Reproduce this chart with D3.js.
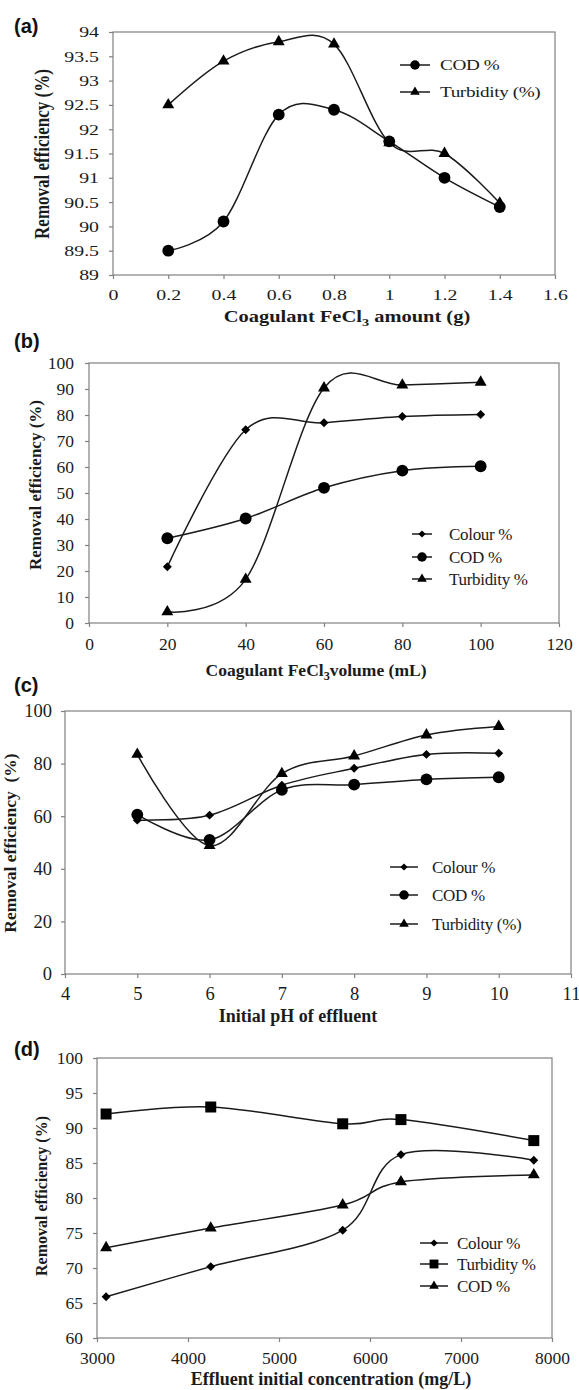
<!DOCTYPE html>
<html>
<head>
<meta charset="utf-8">
<script src="https://cdn.jsdelivr.net/npm/d3@7"></script>
<style>
  html, body { margin: 0; padding: 0; background: #fff; }
  svg { display: block; }
</style>
</head>
<body>
<svg id="fig" width="579" height="1390"></svg>
<script>
// ---- (a) coagulant dose (g) ----
const doseA = [0.2, 0.4, 0.6, 0.8, 1.0, 1.2, 1.4];
const codA = [89.5, 90.1, 92.3, 92.4, 91.75, 91.0, 90.4];
const turbidityA = [92.5, 93.4, 93.8, 93.75, 91.72, 91.5, 90.48];
const xTicksA = [0, 0.2, 0.4, 0.6, 0.8, 1, 1.2, 1.4, 1.6];
const yTicksA = [89, 89.5, 90, 90.5, 91, 91.5, 92, 92.5, 93, 93.5, 94];

// ---- (b) coagulant volume (mL) ----
const volumeB = [20, 40, 60, 80, 100];
const colourB = [21.6, 74.3, 77.0, 79.4, 80.2];
const codB = [32.6, 40.2, 52.0, 58.6, 60.3];
const turbidityB = [4.3, 16.8, 90.4, 91.5, 92.6];
const xTicksB = [0, 20, 40, 60, 80, 100, 120];
const yTicksB = [0, 10, 20, 30, 40, 50, 60, 70, 80, 90, 100];

// ---- (c) initial pH ----
const phC = [5, 6, 7, 8, 9, 10];
const colourC = [58.5, 60.4, 71.8, 78.2, 83.5, 83.9];
const codC = [60.6, 51.0, 70.0, 72.0, 74.0, 74.8];
const turbidityC = [83.5, 48.8, 76.2, 82.9, 90.9, 94.1];
const xTicksC = [4, 5, 6, 7, 8, 9, 10, 11];
const yTicksC = [0, 20, 40, 60, 80, 100];

// ---- (d) effluent initial concentration (mg/L) ----
const concD = [3100, 4250, 5700, 6340, 7800];
const colourD = [65.9, 70.2, 75.4, 86.2, 85.4];
const turbidityD = [92.0, 93.0, 90.6, 91.2, 88.2];
const codD = [72.9, 75.7, 79.0, 82.3, 83.3];
const xTicksD = [3000, 4000, 5000, 6000, 7000, 8000];
const yTicksD = [60, 65, 70, 75, 80, 85, 90, 95, 100];

const SERIF = "'Liberation Serif','Times New Roman',Times,serif";
const SANS = "'Liberation Sans',Arial,Helvetica,sans-serif";
const INK = "#1b1b1b";
const FRAME = "#808080";

// rotated-square marker (a diamond as wide as it is tall)
const symbolRhombus = {
  draw(ctx, size) {
    const r = Math.sqrt(size / 2);
    ctx.moveTo(0, -r); ctx.lineTo(r, 0); ctx.lineTo(0, r); ctx.lineTo(-r, 0); ctx.closePath();
  }
};

const MARKS = {
  circle:   { type: d3.symbolCircle,   size: 110 },
  triangle: { type: d3.symbolTriangle, size: 62 },
  diamond:  { type: symbolRhombus,     size: 40 },
  square:   { type: d3.symbolSquare,   size: 121 }
};

const panels = [
  {
    tag: "(a)", tagPos: [14, 33],
    box: { left: 113, top: 32, right: 555, bottom: 275 },
    xDomain: [0, 1.6], yDomain: [89, 94],
    xTicks: xTicksA, yTicks: yTicksA,
    stretch: 1.28, tickFont: 15.5, xLabelGap: 25, yLabelGap: 10,
    x: doseA,
    series: [
      { name: "COD %", values: codA, mark: "circle" },
      { name: "Turbidity (%)", values: turbidityA, mark: "triangle" }
    ],
    legend: { x0: 400, x1: 430, tx: 440, rows: [65, 92], font: 15 },
    xTitle: { parts: [["Coagulant FeCl"], ["3", true], [" amount (g)"]], x: 347, y: 322, font: 16 },
    yTitle: { text: "Removal efficiency (%)", x: 41, y: 154, font: 17 }
  },
  {
    tag: "(b)", tagPos: [14, 348],
    box: { left: 89, top: 363, right: 559, bottom: 623 },
    xDomain: [0, 120], yDomain: [0, 100],
    xTicks: xTicksB, yTicks: yTicksB,
    stretch: 1, tickFont: 17.5, xLabelGap: 27, yLabelGap: 11,
    x: volumeB,
    series: [
      { name: "Colour %", values: colourB, mark: "diamond" },
      { name: "COD %", values: codB, mark: "circle" },
      { name: "Turbidity %", values: turbidityB, mark: "triangle" }
    ],
    legend: { x0: 412, x1: 432, tx: 449, rows: [534, 557, 579], font: 17 },
    xTitle: { parts: [["Coagulant FeCl"], ["3", true], ["volume (mL)"]], x: 316, y: 676, font: 17.5 },
    yTitle: { text: "Removal efficiency (%)", x: 35, y: 485, font: 17 }
  },
  {
    tag: "(c)", tagPos: [14, 692],
    box: { left: 65, top: 711, right: 571, bottom: 974 },
    xDomain: [4, 11], yDomain: [0, 100],
    xTicks: xTicksC, yTicks: yTicksC,
    stretch: 1, tickFont: 18.5, xLabelGap: 26, yLabelGap: 9,
    x: phC,
    series: [
      { name: "Colour %", values: colourC, mark: "diamond" },
      { name: "COD %", values: codC, mark: "circle" },
      { name: "Turbidity (%)", values: turbidityC, mark: "triangle" }
    ],
    legend: { x0: 390, x1: 418, tx: 432, rows: [867, 895, 924], font: 17 },
    xTitle: { parts: [["Initial pH of effluent"]], x: 298, y: 1022, font: 18 },
    yTitle: { text: "Removal efficiency  (%)", x: 10, y: 843, font: 17.5 }
  },
  {
    tag: "(d)", tagPos: [14, 1056],
    box: { left: 97, top: 1058, right: 552, bottom: 1338 },
    xDomain: [3000, 8000], yDomain: [60, 100],
    xTicks: xTicksD, yTicks: yTicksD,
    stretch: 1, tickFont: 17.5, xLabelGap: 26, yLabelGap: 10,
    x: concD,
    series: [
      { name: "Colour %", values: colourD, mark: "diamond" },
      { name: "Turbidity %", values: turbidityD, mark: "square" },
      { name: "COD %", values: codD, mark: "triangle" }
    ],
    legend: { x0: 420, x1: 448, tx: 457, rows: [1243, 1264, 1286], font: 17 },
    xTitle: { parts: [["Effluent initial concentration (mg/L)"]], x: 331, y: 1385, font: 18 },
    yTitle: { text: "Removal efficiency (%)", x: 41, y: 1196, font: 16 }
  }
];

const svg = d3.select("#fig");
svg.append("rect").attr("width", 579).attr("height", 1390).attr("fill", "#fff");

function symbolPath(mark, scale) {
  const m = MARKS[mark];
  return d3.symbol().type(m.type).size(m.size * scale)();
}

function drawPanel(p) {
  const g = svg.append("g");
  const b = p.box;
  const x = d3.scaleLinear().domain(p.xDomain).range([b.left, b.right]);
  const y = d3.scaleLinear().domain(p.yDomain).range([b.bottom, b.top]);
  const sx = p.stretch;

  // plot frame
  g.append("rect")
    .attr("x", b.left).attr("y", b.top)
    .attr("width", b.right - b.left).attr("height", b.bottom - b.top)
    .attr("fill", "none").attr("stroke", FRAME).attr("stroke-width", 1.2);

  // value axis
  const yAxis = g.append("g").attr("transform", `translate(${b.left},0)`)
    .call(d3.axisLeft(y).tickValues(p.yTicks).tickSize(4).tickPadding(p.yLabelGap)
      .tickFormat(d => String(d)));
  // category axis
  const xAxis = g.append("g").attr("transform", `translate(0,${b.bottom})`)
    .call(d3.axisBottom(x).tickValues(p.xTicks).tickSize(4)
      .tickFormat(d => String(d)));

  [yAxis, xAxis].forEach(ax => {
    ax.select(".domain").remove();
    ax.selectAll(".tick line").attr("stroke", FRAME).attr("stroke-width", 1.2);
    ax.selectAll(".tick text")
      .attr("fill", INK)
      .style("font-family", SERIF)
      .style("font-size", p.tickFont + "px");
  });
  // bottom labels sit on their baseline below the axis
  xAxis.selectAll(".tick text").attr("dy", null).attr("y", p.xLabelGap);
  if (sx !== 1) {
    [yAxis, xAxis].forEach(ax => ax.selectAll(".tick text").each(function () {
      const t = d3.select(this);
      const tx = +(t.attr("x") || 0);
      t.attr("x", tx / sx).attr("transform", `scale(${sx},1)`);
    }));
  }

  // smoothed series lines, then markers
  const line = d3.line().curve(d3.curveCardinal.tension(0))
    .x(d => x(d[0])).y(d => y(d[1]));
  p.series.forEach(s => {
    const pts = p.x.map((v, i) => [v, s.values[i]]);
    g.append("path").attr("d", line(pts))
      .attr("fill", "none").attr("stroke", INK).attr("stroke-width", 1.5);
  });
  p.series.forEach(s => {
    const pts = p.x.map((v, i) => [v, s.values[i]]);
    g.selectAll(null).data(pts).enter().append("path")
      .attr("d", symbolPath(s.mark, 1))
      .attr("transform", d => `translate(${x(d[0])},${y(d[1])})`)
      .attr("fill", "#000");
  });

  // legend
  p.series.forEach((s, i) => {
    const ly = p.legend.rows[i];
    g.append("line").attr("x1", p.legend.x0).attr("x2", p.legend.x1)
      .attr("y1", ly).attr("y2", ly).attr("stroke", INK).attr("stroke-width", 1.5);
    g.append("path").attr("d", symbolPath(s.mark, 0.65))
      .attr("transform", `translate(${(p.legend.x0 + p.legend.x1) / 2},${ly})`)
      .attr("fill", "#000");
    g.append("text")
      .attr("transform", `translate(${p.legend.tx},${ly}) scale(${sx},1)`)
      .attr("dy", "0.35em")
      .attr("fill", INK)
      .style("font-family", SERIF).style("font-size", p.legend.font + "px")
      .style("letter-spacing", "-0.3px")
      .text(s.name);
  });

  // panel tag
  g.append("text").attr("x", p.tagPos[0]).attr("y", p.tagPos[1])
    .attr("fill", "#111")
    .style("font-family", SANS).style("font-weight", "bold").style("font-size", "20px")
    .text(p.tag);

  // axis titles
  const xt = g.append("text")
    .attr("transform", `translate(${p.xTitle.x},${p.xTitle.y}) scale(${sx},1)`)
    .attr("text-anchor", "middle").attr("fill", INK)
    .style("font-family", SERIF).style("font-weight", "bold")
    .style("font-size", p.xTitle.font + "px");
  p.xTitle.parts.forEach(([txt, sub]) => {
    const ts = xt.append("tspan").text(txt);
    if (sub) ts.attr("dy", 4).style("font-size", (p.xTitle.font * 0.7) + "px");
    else if (xt.selectAll("tspan").size() > 1) ts.attr("dy", -4);
  });

  g.append("text")
    .attr("transform", `translate(${p.yTitle.x},${p.yTitle.y}) scale(${sx},1) rotate(-90)`)
    .attr("text-anchor", "middle").attr("dy", "0.35em").attr("fill", INK)
    .style("font-family", SERIF).style("font-weight", "bold")
    .style("font-size", p.yTitle.font + "px").style("white-space", "pre")
    .attr("xml:space", "preserve")
    .text(p.yTitle.text);
}

panels.forEach(drawPanel);
</script>
</body>
</html>
